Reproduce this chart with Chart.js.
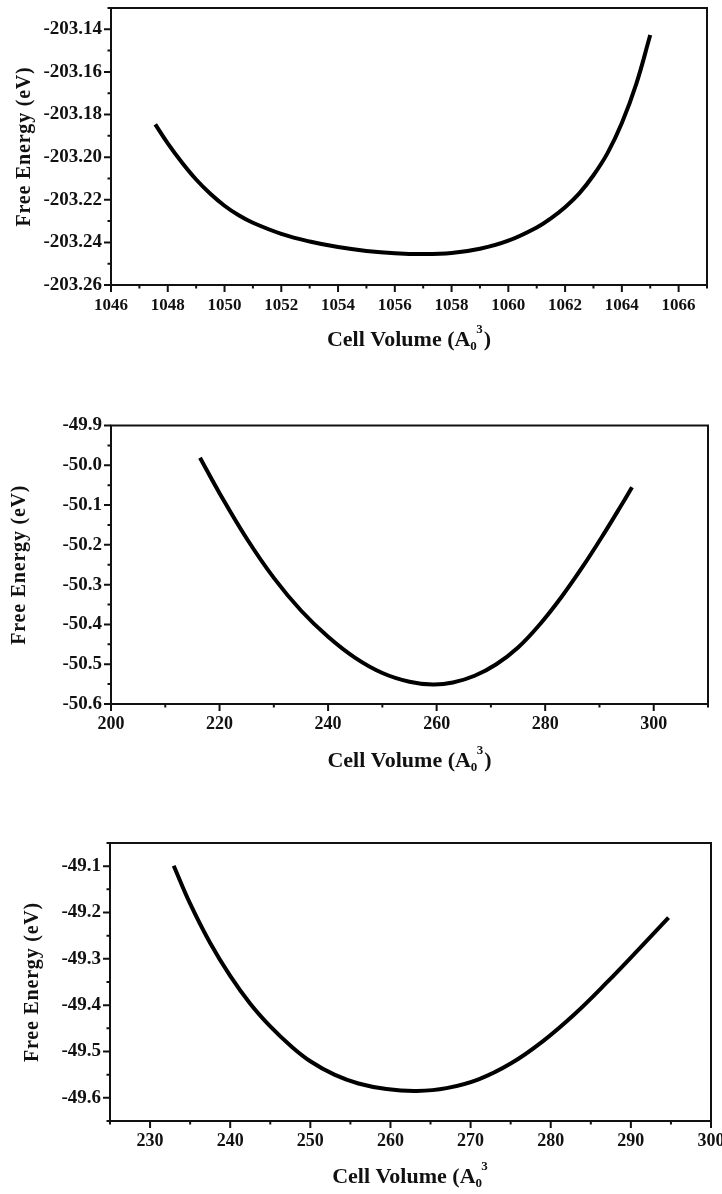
<!DOCTYPE html>
<html>
<head>
<meta charset="utf-8">
<title>Free energy vs cell volume</title>
<script src="https://cdn.jsdelivr.net/npm/chart.js@4.4.1/dist/chart.umd.min.js"></script>
<style>
  html, body { margin: 0; padding: 0; background: #fff; }
  body { width: 722px; height: 1194px; position: relative; overflow: hidden; }
  .panel { position: absolute; left: 0; width: 722px; }
</style>
</head>
<body>
<div class="panel" style="top:0;height:360px"><canvas id="chartTop"></canvas></div>
<div class="panel" style="top:380px;height:400px"><canvas id="chartMid"></canvas></div>
<div class="panel" style="top:800px;height:394px"><canvas id="chartBottom"></canvas></div>
<script>
// E(V) curves for three cells: free energy (eV) against cell volume

// --- top panel ---
const volumeTop = [1047.56, 1048.0, 1048.5, 1049.0, 1049.5, 1050.0, 1050.5, 1051.0, 1052.0, 1053.0, 1054.0,
                   1055.0, 1056.0, 1057.0, 1058.0, 1059.0, 1060.0, 1061.0, 1061.5, 1062.0, 1062.5, 1063.0, 1063.5, 1064.0, 1064.5, 1065.0];
const energyTop = [-203.1846, -203.1935, -203.2025, -203.2105, -203.2172, -203.2228, -203.2273, -203.2308, -203.2360, -203.2396, -203.2422,
                   -203.2440, -203.2451, -203.2455, -203.2450, -203.2430, -203.2392, -203.2330, -203.2287, -203.2235, -203.2170, -203.2085, -203.1980, -203.1840, -203.1660, -203.1427];
const xTicksTop = [1046, 1048, 1050, 1052, 1054, 1056, 1058, 1060, 1062, 1064, 1066];
const yTicksTop = [-203.26, -203.24, -203.22, -203.20, -203.18, -203.16, -203.14];

// --- middle panel ---
const volumeMid = [216.4, 220.0, 225.0, 230.0, 235.0, 240.0, 245.0, 250.0, 255.0, 259.3,
                   263.0, 267.0, 271.0, 275.0, 279.0, 283.0, 287.0, 291.0, 294.0, 296.0];
const energyMid = [-49.981, -50.070, -50.184, -50.283, -50.365, -50.431, -50.484, -50.522, -50.544, -50.551,
                   -50.546, -50.529, -50.500, -50.458, -50.400, -50.331, -50.253, -50.168, -50.101, -50.055];
const xTicksMid = [200, 220, 240, 260, 280, 300];
const yTicksMid = [-50.6, -50.5, -50.4, -50.3, -50.2, -50.1, -50.0, -49.9];

// --- bottom panel ---
const volumeBottom = [232.95, 235.0, 237.5, 240.0, 242.5, 245.0, 247.5, 250.0, 253.0, 256.0, 259.5, 263.3,
                      267.0, 271.0, 275.0, 279.0, 283.0, 287.0, 291.0, 294.7];
const energyBottom = [-49.099, -49.181, -49.266, -49.337, -49.397, -49.446, -49.487, -49.521, -49.550, -49.569, -49.581, -49.585,
                      -49.579, -49.560, -49.526, -49.478, -49.419, -49.351, -49.279, -49.211];
const xTicksBottom = [230, 240, 250, 260, 270, 280, 290, 300];
const yTicksBottom = [-49.6, -49.5, -49.4, -49.3, -49.2, -49.1];

const FONT = '"Liberation Serif", "Times New Roman", serif';

// majors plus the half-step minors that fall inside [min, max]
function withMinors(majors, min, max) {
    const half = (majors[1] - majors[0]) / 2;
    const eps = half * 1e-6;
    const out = [];
    if (majors[0] - half >= min - eps) out.push(majors[0] - half);
    majors.forEach((v, i) => {
        out.push(v);
        if (i < majors.length - 1) out.push(v + half);
    });
    const last = majors[majors.length - 1];
    if (last + half <= max + eps) out.push(last + half);
    return out;
}

function isMajor(value, majors) {
    const tol = Math.abs(majors[1] - majors[0]) * 1e-4;
    return majors.some(m => Math.abs(m - value) < tol);
}

// frame, tick marks and axis titles (with A_0^3 sub/superscript)
const framePlugin = {
    id: 'frame',
    afterDraw(chart, args, opts) {
        const ctx = chart.ctx;
        const area = chart.chartArea;
        const xs = chart.scales.x;
        const ys = chart.scales.y;
        ctx.save();
        ctx.strokeStyle = '#111';
        ctx.lineWidth = 2;

        // tick marks, outward
        ctx.beginPath();
        opts.xAll.forEach(v => {
            const px = xs.getPixelForValue(v);
            const len = isMajor(v, opts.xMajors) ? 7 : 3.5;
            ctx.moveTo(px, area.bottom);
            ctx.lineTo(px, area.bottom + len);
        });
        opts.yAll.forEach(v => {
            const py = ys.getPixelForValue(v);
            const len = isMajor(v, opts.yMajors) ? 7 : 3.5;
            ctx.moveTo(area.left, py);
            ctx.lineTo(area.left - len, py);
        });
        ctx.stroke();

        ctx.strokeRect(area.left, area.top, area.right - area.left, area.bottom - area.top);

        ctx.fillStyle = '#111';

        // y title
        ctx.save();
        ctx.translate(opts.yTitleX, (area.top + area.bottom) / 2);
        ctx.rotate(-Math.PI / 2);
        ctx.font = 'bold 20px ' + FONT;
        ctx.letterSpacing = '0.8px';
        ctx.textAlign = 'center';
        ctx.textBaseline = 'middle';
        ctx.fillText('Free Energy (eV)', 0, 0);
        ctx.restore();

        // x title: "Cell Volume (A" + sub 0 + sup 3 [+ ")"]
        const main = 'bold 22px ' + FONT;
        const small = 'bold 13px ' + FONT;
        const head = 'Cell Volume (A';
        const tail = opts.closeParen ? ')' : '';
        ctx.font = main;
        const wHead = ctx.measureText(head).width;
        const wTail = tail ? ctx.measureText(tail).width : 0;
        ctx.font = small;
        const wSub = ctx.measureText('0').width;
        const wSup = ctx.measureText('3').width;
        const total = wHead + wSub * 0.9 + wSup + 1 + wTail;
        let x = (area.left + area.right) / 2 - total / 2;
        const base = area.bottom + opts.xTitleOffset;
        ctx.textAlign = 'left';
        ctx.textBaseline = 'alphabetic';
        ctx.font = main;
        ctx.fillText(head, x, base);
        x += wHead;
        ctx.font = small;
        ctx.fillText('0', x, base + 4);
        x += wSub * 0.9;
        ctx.fillText('3', x, base - 13);
        x += wSup + 1;
        if (tail) {
            ctx.font = main;
            ctx.fillText(tail, x, base);
        }
        ctx.restore();
    }
};

function makeChart(id, cfg) {
    const xAll = withMinors(cfg.xTicks, cfg.xMin, cfg.xMax);
    const yAll = withMinors(cfg.yTicks, cfg.yMin, cfg.yMax);
    const points = cfg.volume.map((v, i) => ({ x: v, y: cfg.energy[i] }));

    return new Chart(document.getElementById(id), {
        type: 'line',
        data: {
            datasets: [{
                data: points,
                borderColor: '#000',
                borderWidth: 4,
                borderCapStyle: 'butt',
                borderJoinStyle: 'round',
                pointRadius: 0,
                fill: false,
                tension: 0.4
            }]
        },
        options: {
            responsive: true,
            maintainAspectRatio: false,
            animation: false,
            events: [],
            layout: { padding: { top: cfg.padTop, right: cfg.padRight, left: 0, bottom: 0 } },
            plugins: {
                legend: { display: false },
                tooltip: { enabled: false },
                frame: { xAll, yAll, xMajors: cfg.xTicks, yMajors: cfg.yTicks,
                         yTitleX: cfg.yTitleX, xTitleOffset: cfg.xTitleOffset, closeParen: cfg.closeParen }
            },
            scales: {
                x: {
                    type: 'linear',
                    min: cfg.xMin,
                    max: cfg.xMax,
                    grid: { display: false, drawTicks: false },
                    border: { display: false },
                    afterBuildTicks: axis => { axis.ticks = xAll.map(v => ({ value: v })); },
                    afterFit: axis => {
                        axis.height = cfg.xAxisHeight;
                        axis.paddingLeft = 0;
                        axis.paddingRight = 0;
                    },
                    ticks: {
                        autoSkip: false,
                        maxRotation: 0,
                        padding: 10,
                        color: '#111',
                        font: { family: FONT, size: cfg.xFont, weight: 'bold' },
                        callback: v => isMajor(v, cfg.xTicks) ? String(Math.round(v)) : ''
                    }
                },
                y: {
                    min: cfg.yMin,
                    max: cfg.yMax,
                    grid: { display: false, drawTicks: false },
                    border: { display: false },
                    afterBuildTicks: axis => { axis.ticks = yAll.map(v => ({ value: v })); },
                    afterFit: axis => {
                        axis.width = cfg.yAxisWidth;
                        axis.paddingTop = 0;
                        axis.paddingBottom = 0;
                    },
                    ticks: {
                        autoSkip: false,
                        padding: 9,
                        color: '#111',
                        font: { family: FONT, size: 19, weight: 'bold' },
                        callback: v => isMajor(v, cfg.yTicks) ? v.toFixed(cfg.yDigits) : ''
                    }
                }
            }
        },
        plugins: [framePlugin]
    });
}

makeChart('chartTop', {
    volume: volumeTop, energy: energyTop, xTicks: xTicksTop, yTicks: yTicksTop,
    xMin: 1046, xMax: 1067, yMin: -203.26, yMax: -203.13, yDigits: 2,
    padTop: 8, padRight: 15, yAxisWidth: 111, xAxisHeight: 75, xFont: 17,
    yTitleX: 25, xTitleOffset: 61, closeParen: true
});

makeChart('chartMid', {
    volume: volumeMid, energy: energyMid, xTicks: xTicksMid, yTicks: yTicksMid,
    xMin: 200, xMax: 310, yMin: -50.6, yMax: -49.9, yDigits: 1,
    padTop: 45.5, padRight: 14, yAxisWidth: 111, xAxisHeight: 76, xFont: 18,
    yTitleX: 20, xTitleOffset: 63, closeParen: true
});

makeChart('chartBottom', {
    volume: volumeBottom, energy: energyBottom, xTicks: xTicksBottom, yTicks: yTicksBottom,
    xMin: 225, xMax: 300, yMin: -49.65, yMax: -49.05, yDigits: 1,
    padTop: 43, padRight: 11, yAxisWidth: 110, xAxisHeight: 73, xFont: 18,
    yTitleX: 33, xTitleOffset: 62, closeParen: false
});
</script>
</body>
</html>
